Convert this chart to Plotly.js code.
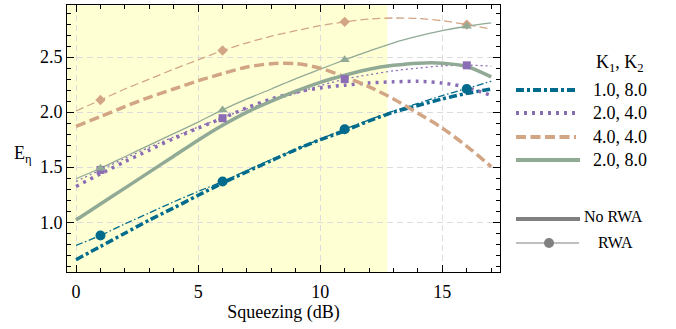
<!DOCTYPE html>
<html>
<head>
<meta charset="utf-8">
<script src="https://cdn.plot.ly/plotly-3.0.1.min.js"></script>
<style>html,body{margin:0;padding:0;background:#fff;}#chart{width:676px;height:329px;}
#chart text{font-family:"Liberation Serif", serif !important;}</style>
</head>
<body>
<div id="chart"></div>
<script>
// ---- data ----
const squeezing = [0,1,2,3,4,5,6,7,8,9,10,11,12,13,14,15,16,17];
const markerSqueezing = [1,6,11,16];

const seriesLabels = ['1.0, 8.0','2.0, 4.0','4.0, 4.0','2.0, 8.0'];

// No RWA (thick lines)
const noRwa_1_8 = [0.66,0.78,0.90,1.02,1.13,1.245,1.355,1.46,1.56,1.66,1.75,1.83,1.92,2.00,2.06,2.12,2.17,2.21];
const noRwa_2_4 = [1.325,1.44,1.55,1.655,1.76,1.855,1.945,2.04,2.12,2.18,2.22,2.245,2.265,2.275,2.28,2.265,2.225,2.15];
const noRwa_4_4 = [1.87,1.96,2.05,2.135,2.21,2.285,2.35,2.41,2.44,2.44,2.40,2.32,2.23,2.12,1.99,1.855,1.69,1.505];
const noRwa_2_8 = [1.02,1.165,1.31,1.455,1.60,1.745,1.88,2.00,2.10,2.19,2.27,2.335,2.39,2.425,2.445,2.445,2.415,2.32];

// RWA (thin lines)
const rwa_1_8 = [0.79,0.88,0.985,1.085,1.185,1.28,1.37,1.47,1.57,1.66,1.755,1.845,1.93,2.01,2.08,2.15,2.215,2.28];
const rwa_2_4 = [1.37,1.475,1.58,1.68,1.775,1.865,1.95,2.03,2.10,2.17,2.24,2.30,2.34,2.375,2.40,2.42,2.427,2.418];
const rwa_4_4 = [2.01,2.11,2.21,2.30,2.39,2.475,2.56,2.63,2.69,2.74,2.785,2.82,2.845,2.855,2.85,2.83,2.795,2.755];
const rwa_2_8 = [1.395,1.49,1.595,1.70,1.805,1.91,2.02,2.12,2.21,2.305,2.39,2.475,2.555,2.63,2.69,2.74,2.78,2.81];

// RWA markers
const rwaMarkers_1_8 = [0.88,1.37,1.845,2.21];
const rwaMarkers_2_4 = [1.475,1.945,2.30,2.425];
const rwaMarkers_4_4 = [2.11,2.56,2.82,2.795];
const rwaMarkers_2_8 = [1.49,2.02,2.475,2.78];

const shadeEnd = 12.75; // end of shaded region (dB)

// ---- styles ----
const colors = ['#006b8c','#8a6db5','#d2a585','#91aa96'];
const thickDash = ['8px,3px,3px,3px','3px,5px','10px,4.5px','solid'];
const thinDash = ['7px,2.5px,1.5px,2.5px','2px,3px','8px,4px','solid'];
const symbols = ['circle','square','diamond','triangle-up'];
const symSizes = [10,8,8,9];
const FONT = 'Liberation Serif';
const mkFont = s => ({family:FONT,size:s,color:'#000'});

const noRwa = [noRwa_1_8,noRwa_2_4,noRwa_4_4,noRwa_2_8];
const rwa = [rwa_1_8,rwa_2_4,rwa_4_4,rwa_2_8];
const rwaMk = [rwaMarkers_1_8,rwaMarkers_2_4,rwaMarkers_4_4,rwaMarkers_2_8];

const traces = [];
for (let i=0;i<4;i++){
  traces.push({x:squeezing,y:rwa[i],mode:'lines',showlegend:false,
    line:{color:colors[i],width:1.3,dash:thinDash[i],shape:'spline',smoothing:0.8}});
}
for (let i=0;i<4;i++){
  traces.push({x:squeezing,y:noRwa[i],mode:'lines',showlegend:false,name:seriesLabels[i],
    line:{color:colors[i],width:3.5,dash:thickDash[i],shape:'spline',smoothing:0.8}});
}
for (let i=0;i<4;i++){
  traces.push({x:markerSqueezing,y:rwaMk[i],mode:'markers',showlegend:false,
    marker:{color:colors[i],symbol:symbols[i],size:symSizes[i]}});
}

// ---- manual legend (paper coordinates from pixel layout) ----
const L=67, R=500, T=5, B=272;
const px = v => (v-L)/(R-L);
const py = v => (B-v)/(B-T);
const shapes = [{type:'rect',xref:'x',yref:'paper',x0:-0.37,x1:shadeEnd,y0:0,y1:1,
  fillcolor:'rgb(255,255,212)',line:{width:0},layer:'below'}];
const annotations = [
  {text:'E<sub>η</sub>',xref:'paper',yref:'paper',x:px(23),y:py(154),showarrow:false,
   font:mkFont(18),xanchor:'center',yanchor:'middle'},
  {text:'K<sub>1</sub>, K<sub>2</sub>',xref:'paper',yref:'paper',x:px(620),y:py(64),showarrow:false,
   font:mkFont(18),xanchor:'center',yanchor:'middle'}
];
const rowY = [90,113,137,160];
for (let i=0;i<4;i++){
  shapes.push({type:'line',xref:'paper',yref:'paper',x0:px(516),x1:px(i===3?580:576),y0:py(rowY[i]),y1:py(rowY[i]),
    line:{color:colors[i],width:4,dash:thickDash[i]}});
  annotations.push({text:seriesLabels[i],xref:'paper',yref:'paper',x:px(591),y:py(rowY[i]),showarrow:false,
    font:mkFont(18),xanchor:'left',yanchor:'middle'});
}
shapes.push({type:'line',xref:'paper',yref:'paper',x0:px(516),x1:px(580),y0:py(219),y1:py(219),line:{color:'#808080',width:4}});
annotations.push({text:'No RWA',xref:'paper',yref:'paper',x:px(582),y:py(217),showarrow:false,
  font:mkFont(16),xanchor:'left',yanchor:'middle'});
shapes.push({type:'line',xref:'paper',yref:'paper',x0:px(516),x1:px(579),y0:py(243),y1:py(243),line:{color:'#808080',width:1.2}});
shapes.push({type:'circle',xref:'paper',yref:'paper',x0:px(544),x1:px(554),y0:py(248),y1:py(238),fillcolor:'#808080',line:{width:0}});
annotations.push({text:'RWA',xref:'paper',yref:'paper',x:px(596),y:py(242),showarrow:false,
  font:mkFont(16),xanchor:'left',yanchor:'middle'});

const layout = {
  width:676,height:329,
  margin:{l:L,r:676-R,t:T,b:329-B},
  paper_bgcolor:'#fff',plot_bgcolor:'#fff',
  font:mkFont(18),
  showlegend:false,
  xaxis:{range:[-0.37,17.36],tick0:0,dtick:5,ticks:'inside',ticklen:7,tickcolor:'#000',
    showline:true,linecolor:'#000',mirror:'allticks',ticklabelstandoff:3,
    showgrid:true,gridcolor:'#dcdcdc',griddash:'6px,4px',zeroline:false,
    tickfont:mkFont(18),
    minor:{dtick:1,ticks:'inside',ticklen:4,tickcolor:'#000',showgrid:false},
    title:{text:'Squeezing (dB)',font:mkFont(18),standoff:3}},
  yaxis:{range:[0.548,2.973],tick0:0,dtick:0.5,tickformat:'.1f',ticks:'inside',ticklen:7,tickcolor:'#000',
    showline:true,linecolor:'#000',mirror:'allticks',
    showgrid:true,gridcolor:'#dcdcdc',griddash:'6px,4px',zeroline:false,
    tickfont:mkFont(18),
    minor:{dtick:0.1,ticks:'inside',ticklen:4,tickcolor:'#000',showgrid:false}},
  shapes:shapes,annotations:annotations
};
function forceFont(){
  document.querySelectorAll('#chart text').forEach(function(t){
    t.style.fontFamily = '"Liberation Serif", serif';
    t.setAttribute('font-family','Liberation Serif');
  });
}
const p = Plotly.newPlot('chart',traces,layout,{displayModeBar:false});
if (p && p.then) { p.then(forceFont, forceFont); }
forceFont();
setTimeout(forceFont, 30);
setTimeout(forceFont, 200);
</script>
</body>
</html>
